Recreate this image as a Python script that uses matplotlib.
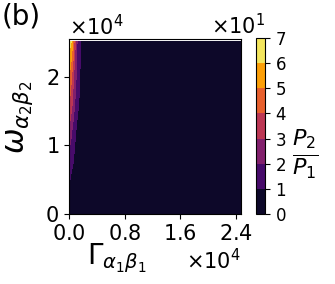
import numpy as np
import matplotlib
matplotlib.use("Agg")
import matplotlib.pyplot as plt

# grid (Gamma along x, omega along y)
gamma = [0, 300, 600, 900, 1200, 1600, 2000, 3000, 24700]
omega = [0, 4000, 8000, 12000, 16000, 20000, 24000, 25200]

# P2/P1, one row per omega value
ratio = [
    [6, 4, 3, 2, 1, 0.5, 0.3, 0.1, 0],
    [10, 7, 5, 3.5, 2.5, 1.5, 0.8, 0.2, 0],
    [17, 13, 10.8, 7, 5, 3, 1.5, 0.3, 0],
    [28, 22, 16, 11, 7.5, 4.5, 2.5, 0.5, 0],
    [41, 34, 26, 18, 12, 8, 4, 1, 0],
    [51, 42, 32, 23, 16, 9.5, 5, 1.5, 0],
    [62, 56, 44, 28, 17.5, 10.2, 5.7, 1.8, 0],
    [66, 61, 48, 30, 18.5, 10.5, 6, 2, 0],
]
levels = [0, 10, 20, 30, 40, 50, 60, 70]

fig = plt.figure(figsize=(3.35, 2.84), dpi=100)
ax = fig.add_axes([69 / 335, 70 / 284, 172 / 335, 175 / 284])
cax = fig.add_axes([256 / 335, 70 / 284, 9 / 335, 176 / 284])

cs = ax.contourf(gamma, omega, ratio, levels=levels, cmap="inferno")
ax.set_xlim(0, 24700)
ax.set_ylim(0, 25500)
ax.set_xticks([0, 8000, 16000, 24000])
ax.set_yticks([0, 10000, 20000])
ax.ticklabel_format(style="sci", scilimits=(0, 0), useMathText=True)
ax.tick_params(labelsize=15)
ax.xaxis.get_offset_text().set_fontsize(15)
ax.yaxis.get_offset_text().set_fontsize(15)

ax.set_xlabel(r"$\Gamma_{\alpha_1\beta_1}$", fontsize=20)
ax.xaxis.set_label_coords(0.28, -0.155)
ax.set_ylabel(r"$\omega_{\alpha_2\beta_2}$", fontsize=22)
ax.yaxis.set_label_coords(-0.2, 0.55)

cbar = fig.colorbar(cs, cax=cax, ticks=levels)
cbar.formatter.set_powerlimits((0, 0))
cbar.formatter.set_useMathText(True)
cbar.update_ticks()
cax.tick_params(labelsize=12)
cax.yaxis.get_offset_text().set_fontsize(15)
cax.set_ylabel(r"$\frac{P_2}{P_1}$", fontsize=23, rotation=0, va="center", ha="center")
cax.yaxis.set_label_coords(5.5, 0.34)

fig.text(0.006, 0.99, "(b)", fontsize=20, va="top", ha="left")

fig.savefig("out.png", dpi=100)
